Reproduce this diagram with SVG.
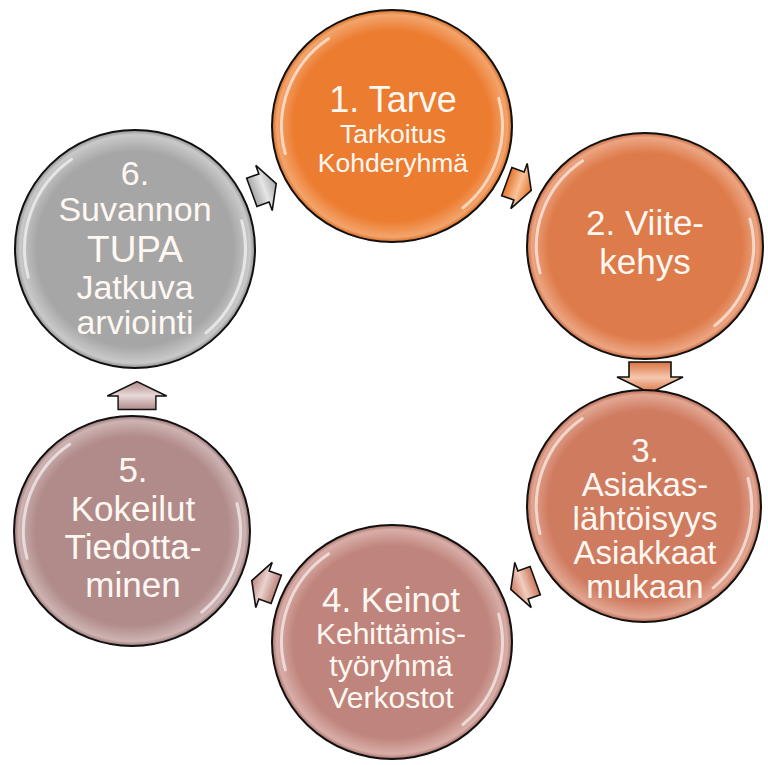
<svg xmlns="http://www.w3.org/2000/svg" xmlns:xlink="http://www.w3.org/1999/xlink" width="768" height="765" viewBox="0 0 768 765">
<style>
.node{stroke:#111;stroke-width:2}
.hl{fill:none;stroke:#fff;stroke-width:3;stroke-opacity:0.6;stroke-linecap:round;vector-effect:non-scaling-stroke}
.t{font-family:"Liberation Sans",Arial,sans-serif;fill:#FFF8F2;text-anchor:middle}
.arr{stroke:#111;stroke-width:1.6;stroke-linejoin:miter}
</style>
<defs>
<radialGradient id="g1" cx="50%" cy="50%" r="50%"><stop offset="0" stop-color="#EC7C30"/><stop offset="0.82" stop-color="#EC7C30"/><stop offset="0.96" stop-color="#F3A46C"/><stop offset="1" stop-color="#D4691F"/></radialGradient>
<radialGradient id="g2" cx="50%" cy="50%" r="50%"><stop offset="0" stop-color="#DE7B4A"/><stop offset="0.82" stop-color="#DE7B4A"/><stop offset="0.96" stop-color="#ECA583"/><stop offset="1" stop-color="#C4663A"/></radialGradient>
<radialGradient id="g3" cx="50%" cy="50%" r="50%"><stop offset="0" stop-color="#CF7B60"/><stop offset="0.82" stop-color="#CF7B60"/><stop offset="0.96" stop-color="#E2A692"/><stop offset="1" stop-color="#B5664D"/></radialGradient>
<radialGradient id="g4" cx="50%" cy="50%" r="50%"><stop offset="0" stop-color="#BF847B"/><stop offset="0.82" stop-color="#BF847B"/><stop offset="0.96" stop-color="#D8AEA8"/><stop offset="1" stop-color="#A66E66"/></radialGradient>
<radialGradient id="g5" cx="50%" cy="50%" r="50%"><stop offset="0" stop-color="#B08B8A"/><stop offset="0.82" stop-color="#B08B8A"/><stop offset="0.96" stop-color="#CDB3B2"/><stop offset="1" stop-color="#977473"/></radialGradient>
<radialGradient id="g6" cx="50%" cy="50%" r="50%"><stop offset="0" stop-color="#A6A6A6"/><stop offset="0.82" stop-color="#A6A6A6"/><stop offset="0.96" stop-color="#C9C9C9"/><stop offset="1" stop-color="#8E8E8E"/></radialGradient>
<linearGradient id="a1" x1="0" y1="0" x2="1" y2="0"><stop offset="0" stop-color="#E8732A"/><stop offset="0.5" stop-color="#F8C49A"/><stop offset="1" stop-color="#E8732A"/></linearGradient>
<linearGradient id="a2" x1="0" y1="0" x2="1" y2="0"><stop offset="0" stop-color="#DA7444"/><stop offset="0.5" stop-color="#F6C7AE"/><stop offset="1" stop-color="#DA7444"/></linearGradient>
<linearGradient id="a3" x1="0" y1="0" x2="1" y2="0"><stop offset="0" stop-color="#CC785D"/><stop offset="0.5" stop-color="#F2CDBF"/><stop offset="1" stop-color="#CC785D"/></linearGradient>
<linearGradient id="a4" x1="0" y1="0" x2="1" y2="0"><stop offset="0" stop-color="#BD847B"/><stop offset="0.5" stop-color="#EBD3CF"/><stop offset="1" stop-color="#BD847B"/></linearGradient>
<linearGradient id="a5" x1="0" y1="0" x2="1" y2="0"><stop offset="0" stop-color="#B08B8A"/><stop offset="0.5" stop-color="#E8D8D8"/><stop offset="1" stop-color="#B08B8A"/></linearGradient>
<linearGradient id="a6" x1="0" y1="0" x2="1" y2="0"><stop offset="0" stop-color="#A8A8A8"/><stop offset="0.5" stop-color="#E6E6E6"/><stop offset="1" stop-color="#A8A8A8"/></linearGradient>
<g id="hl">
<path class="hl" d="M-0.889,0.238 A0.92,0.92 0 0 1 -0.528,-0.754"/>
<path class="hl" d="M0.889,-0.238 A0.92,0.92 0 0 1 0.591,0.705"/>
</g>
<path id="bigArrow" d="M-15,-21 H0 V-33 L16,0 L0,33 V21 H-15 Z"/>
<path id="smallArrow" d="M-13,-15 H0 V-24 L13,0 L0,24 V15 H-13 Z"/>
</defs>
<rect width="768" height="765" fill="#fff"/>

<g id="connectors">
<use href="#smallArrow" class="arr" fill="url(#a1)" transform="translate(519,186) rotate(20)"/>
<use href="#bigArrow" class="arr" fill="url(#a2)" transform="translate(650,377) rotate(90)"/>
<use href="#smallArrow" class="arr" fill="url(#a3)" transform="translate(523,585) rotate(160)"/>
<use href="#smallArrow" class="arr" fill="url(#a4)" transform="translate(264,585) rotate(200)"/>
<use href="#bigArrow" class="arr" fill="url(#a5)" transform="translate(137,396) rotate(-90) scale(0.9)"/>
<use href="#smallArrow" class="arr" fill="url(#a6)" transform="translate(264,188) rotate(-20)"/>
</g>

<g id="node1">
<ellipse class="node" cx="392" cy="126" rx="120" ry="116" fill="url(#g1)"/>
<use href="#hl" transform="translate(392,126) scale(120,116)"/>
<text class="t" x="393" y="112" font-size="36">1. Tarve</text>
<text class="t" x="393" y="143" font-size="26.5">Tarkoitus</text>
<text class="t" x="393" y="172" font-size="26.5">Kohderyhmä</text>
</g>

<g id="node2">
<ellipse class="node" cx="645" cy="246" rx="118" ry="113" fill="url(#g2)"/>
<use href="#hl" transform="translate(645,246) scale(118,113)"/>
<text class="t" x="645" y="235" font-size="35">2. Viite-</text>
<text class="t" x="645" y="274" font-size="35">kehys</text>
</g>

<g id="node3">
<ellipse class="node" cx="644" cy="506" rx="117" ry="116" fill="url(#g3)"/>
<use href="#hl" transform="translate(644,506) scale(117,116)"/>
<text class="t" x="645" y="462" font-size="33">3.</text>
<text class="t" x="645" y="496" font-size="33">Asiakas-</text>
<text class="t" x="645" y="530" font-size="33">lähtöisyys</text>
<text class="t" x="645" y="564" font-size="33">Asiakkaat</text>
<text class="t" x="645" y="598" font-size="33">mukaan</text>
</g>

<g id="node4">
<ellipse class="node" cx="392" cy="642" rx="120" ry="117" fill="url(#g4)"/>
<use href="#hl" transform="translate(392,642) scale(120,117)"/>
<text class="t" x="391" y="612" font-size="35">4. Keinot</text>
<text class="t" x="391" y="644" font-size="30">Kehittämis-</text>
<text class="t" x="391" y="676" font-size="30">työryhmä</text>
<text class="t" x="391" y="708" font-size="30">Verkostot</text>
</g>

<g id="node5">
<ellipse class="node" cx="132" cy="531" rx="118" ry="115" fill="url(#g5)"/>
<use href="#hl" transform="translate(132,531) scale(118,115)"/>
<text class="t" x="133" y="482" font-size="35">5.</text>
<text class="t" x="133" y="521" font-size="35">Kokeilut</text>
<text class="t" x="133" y="559" font-size="35">Tiedotta-</text>
<text class="t" x="133" y="597" font-size="35">minen</text>
</g>

<g id="node6">
<ellipse class="node" cx="135" cy="249" rx="120" ry="119" fill="url(#g6)"/>
<use href="#hl" transform="translate(135,249) scale(120,119)"/>
<text class="t" x="135" y="185" font-size="34">6.</text>
<text class="t" x="135" y="221" font-size="34">Suvannon</text>
<text class="t" x="135" y="262" font-size="37">TUPA</text>
<text class="t" x="135" y="299" font-size="34">Jatkuva</text>
<text class="t" x="135" y="334" font-size="34">arviointi</text>
</g>
</svg>
